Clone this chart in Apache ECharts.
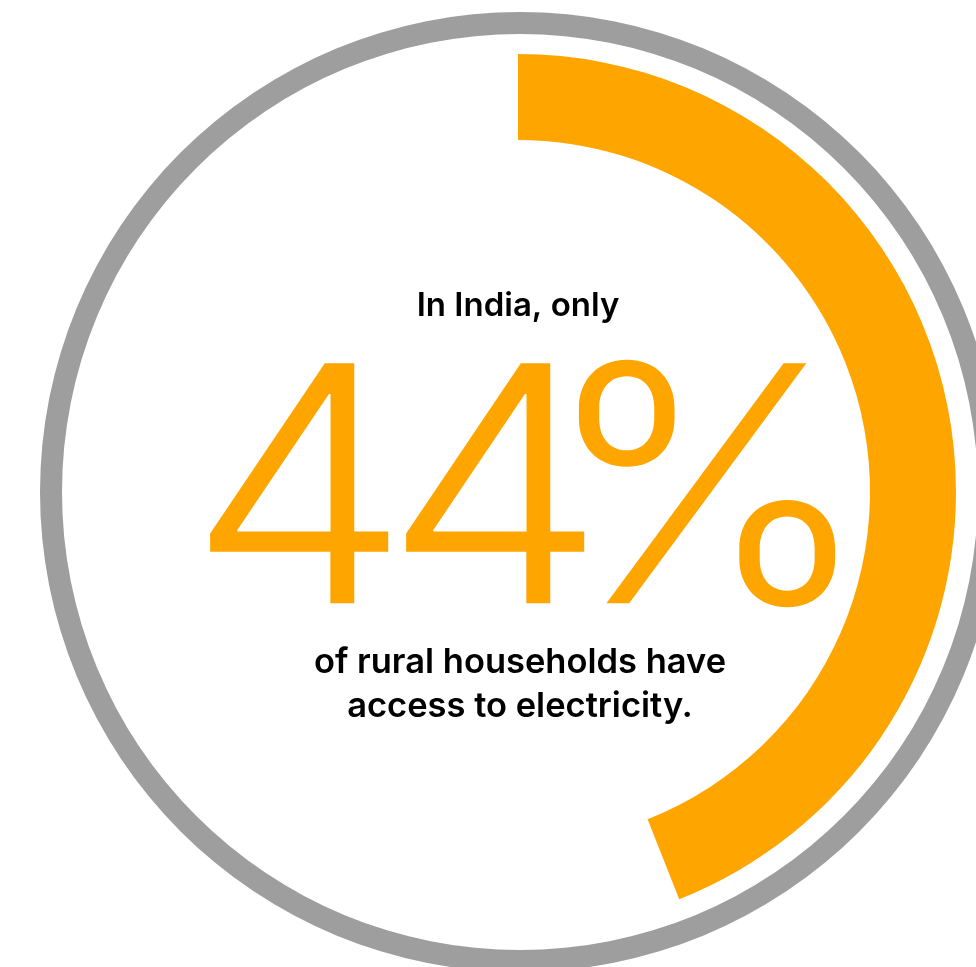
<!DOCTYPE html>
<html>
<head>
<meta charset="utf-8">
<style>
  html, body { margin: 0; padding: 0; background: #ffffff; }
  #chart { width: 976px; height: 967px; }
</style>
<script src="https://cdn.jsdelivr.net/npm/echarts@6/dist/echarts.min.js"></script>
</head>
<body>
<div id="chart"></div>
<script>
// Share of rural households with electricity access
const categories = ['With access', 'Without access'];
const shareValues = [44, 56];
const headline = 'In India, only';
const footnoteLines = ['of rural households have', 'access to electricity.'];

const ORANGE = '#FFA500';
const GREY = '#9E9E9E';

const chart = echarts.init(document.getElementById('chart'), null, { renderer: 'canvas' });

// Big figure: each glyph placed with tight tracking
const bigText = shareValues[0] + '%';
const glyphCenters = [299, 495, 707];
const bigGlyphs = bigText.split('').map((ch, i) => ({
  type: 'text',
  x: glyphCenters[i],
  y: 504,
  scaleX: 1.075,
  style: {
    text: ch,
    font: '300 330px Inter',
    fill: ORANGE,
    align: 'center',
    verticalAlign: 'middle'
  }
}));

const option = {
  backgroundColor: '#ffffff',
  animation: false,
  series: [
    {
      // outer full grey ring
      type: 'pie',
      center: [520, 492],
      radius: [458, 480],
      silent: true,
      label: { show: false },
      labelLine: { show: false },
      itemStyle: { color: GREY, borderWidth: 0 },
      data: [{ name: 'ring', value: 1 }]
    },
    {
      // progress arc, clockwise from the top
      type: 'pie',
      center: [518, 492],
      radius: [352, 438],
      startAngle: 90,
      clockwise: true,
      silent: true,
      label: { show: false },
      labelLine: { show: false },
      data: categories.map((name, i) => ({
        name,
        value: shareValues[i],
        itemStyle: { color: i === 0 ? ORANGE : 'rgba(0,0,0,0)', borderWidth: 0 }
      }))
    }
  ],
  graphic: [
    {
      type: 'text',
      x: 518, y: 306,
      style: {
        text: headline,
        font: '600 33px Inter',
        fill: '#000000',
        align: 'center',
        verticalAlign: 'middle'
      }
    }
  ].concat(bigGlyphs, [
    {
      type: 'text',
      x: 520, y: 685,
      style: {
        text: footnoteLines.join('\n'),
        font: '600 34.5px Inter',
        lineHeight: 44,
        fill: '#000000',
        align: 'center',
        verticalAlign: 'middle'
      }
    }
  ])
};

chart.setOption(option);
</script>
</body>
</html>
